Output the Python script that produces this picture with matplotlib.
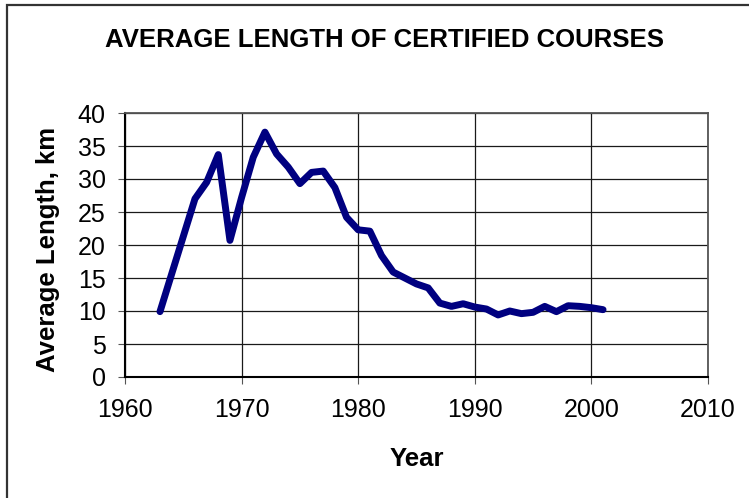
import matplotlib
matplotlib.use("Agg")
import matplotlib.pyplot as plt
from matplotlib.patches import Rectangle

plt.rcParams['font.family'] = ['Liberation Sans', 'DejaVu Sans']

# data
years = list(range(1963, 2002))
avg_length = [9.9, 15.6, 21.3, 27.0, 29.5, 33.7, 20.7, 27.2, 33.3, 37.1,
              33.8, 31.8, 29.3, 31.0, 31.2, 28.7, 24.2, 22.3, 22.1, 18.4,
              15.9, 15.0, 14.1, 13.5, 11.2, 10.7, 11.1, 10.6, 10.3, 9.4,
              10.0, 9.6, 9.8, 10.7, 9.9, 10.8, 10.7, 10.5, 10.2]

x_ticks = [1960, 1970, 1980, 1990, 2000, 2010]
y_ticks = [0, 5, 10, 15, 20, 25, 30, 35, 40]

W, H = 749, 498
fig = plt.figure(figsize=(W / 100, H / 100), dpi=100)

# chart area border (cut off at right and bottom)
fig.patches.append(Rectangle((7 / W, -0.1), 1.2, 1 - 5.5 / H + 0.1, transform=fig.transFigure,
                             fill=False, edgecolor='#333333', lw=1.6))

ax = fig.add_axes([125 / W, 1 - 377 / H, (708 - 125) / W, (377 - 113) / H])

ax.plot(years, avg_length, color='#000080', lw=5, solid_capstyle='round',
        solid_joinstyle='round', zorder=3)

ax.set_xlim(1960, 2010)
ax.set_ylim(0, 40)
ax.set_xticks(x_ticks)
ax.set_yticks(y_ticks)
ax.grid(True, color='#1a1a1a', lw=0.9)
ax.set_axisbelow(True)

ax.tick_params(direction='out', length=5, width=0.8, color='#555555', labelsize=18)
ax.tick_params(axis='x', pad=10)
ax.tick_params(axis='y', pad=9)

for side in ['left', 'bottom']:
    ax.spines[side].set_color('black')
    ax.spines[side].set_linewidth(1.5)
for side in ['top', 'right']:
    ax.spines[side].set_color('#555555')
    ax.spines[side].set_linewidth(1.3)

fig.text(384 / W, 1 - 47 / H, "AVERAGE LENGTH OF CERTIFIED COURSES", ha='center',
         va='baseline', fontsize=18.5, fontweight='bold')
fig.text(417 / W, 1 - 466 / H, "Year", ha='center', va='baseline', fontsize=18.5,
         fontweight='bold')
fig.text(48 / W, 1 - 249 / H, "Average Length, km", ha='center', va='center',
         rotation=90, fontsize=18.5, fontweight='bold')

fig.savefig('out.png', dpi=100)
